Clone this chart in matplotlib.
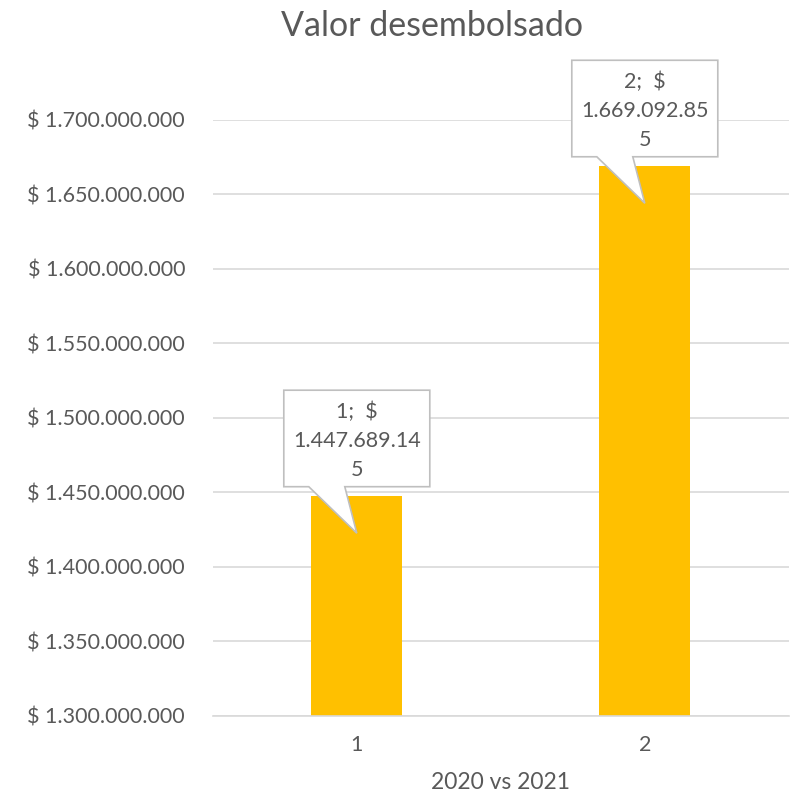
import matplotlib.pyplot as plt
from matplotlib.patches import Polygon
from matplotlib.transforms import ScaledTranslation

# Chart data
categories = ['1', '2']
values = [1447689145, 1669092855]
y_ticks = [1300000000, 1350000000, 1400000000, 1450000000, 1500000000,
           1550000000, 1600000000, 1650000000, 1700000000]

text_color = '#595959'
plt.rcParams['font.family'] = ['Lato', 'DejaVu Sans']


def pesos(v):
    return '$ ' + f'{v:,.0f}'.replace(',', '.')


fig = plt.figure(figsize=(8, 7.98), dpi=100)
ax = fig.add_axes([0.266, 0.103, 0.72, 0.747])

x = list(range(len(categories)))
ax.bar(x, values, width=0.315, color='#FFC000', zorder=2)

ax.set_xlim(-0.5, len(categories) - 0.5)
ax.set_ylim(y_ticks[0], y_ticks[-1])
ax.set_yticks(y_ticks)
ax.set_yticklabels([pesos(v) for v in y_ticks])
ax.set_xticks(x)
ax.set_xticklabels(categories)
ax.tick_params(axis='both', length=0, colors=text_color, labelsize=15.5)
ax.tick_params(axis='y', pad=20)
ax.tick_params(axis='x', pad=14)
ax.grid(axis='y', color='#D9D9D9', linewidth=1.2, zorder=0)
for side in ['top', 'right', 'left']:
    ax.spines[side].set_visible(False)
ax.spines['bottom'].set_color('#D9D9D9')
ax.spines['bottom'].set_linewidth(1.2)

ax.set_xlabel('2020 vs 2021', color=text_color, fontsize=16.5, labelpad=12)
fig.text(0.54, 0.968, 'Valor desembolsado', color=text_color, fontsize=24.5,
         ha='center', va='center')

# Callout labels (shape in inches relative to bar top)
shape = [(-0.73, 0.09), (-0.73, 1.055), (0.73, 1.055), (0.73, 0.09),
         (-0.12, 0.09), (0.0, -0.375), (-0.48, 0.09)]
for xi, cat, v in zip(x, categories, values):
    tr = fig.dpi_scale_trans + ScaledTranslation(xi, v, ax.transData)
    poly = Polygon(shape, closed=True, transform=tr, facecolor='white',
                   edgecolor='#BFBFBF', linewidth=1.2, zorder=5, clip_on=False)
    ax.add_patch(poly)
    s = pesos(v)[2:]
    lines = [f'{cat};  $', s[:-1], s[-1]]
    for k, line in enumerate(lines):
        ax.text(0, 0.84 - 0.29 * k, line, transform=tr, ha='center', va='center',
                color=text_color, fontsize=15.5, zorder=6)

fig.savefig('out.png', dpi=100)
